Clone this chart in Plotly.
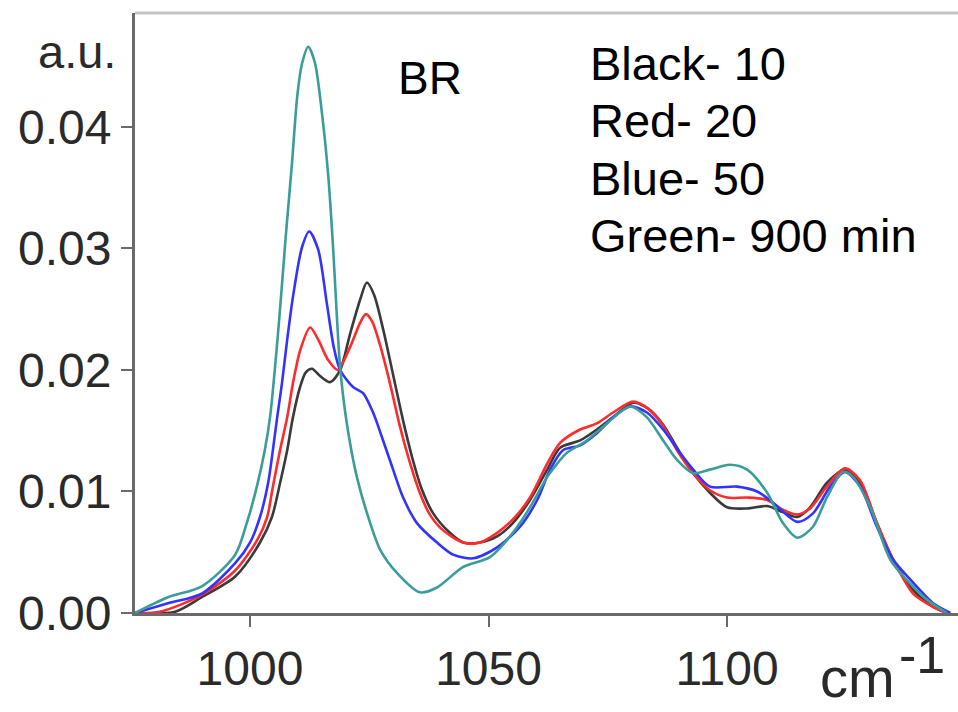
import plotly.graph_objects as go

# Spectra (wavenumber in cm-1, absorbance in a.u.) for the four times
black_x = [975.9, 984.3, 989.9, 996.9, 1002.1, 1004.6, 1006.3, 1007.8, 1009.0, 1010.5,
           1011.7, 1013.0, 1014.7, 1016.8, 1018.9, 1021.0, 1023.1, 1024.5, 1026.0, 1028.0,
           1030.0, 1032.0, 1034.0, 1036.0, 1038.4, 1041.9, 1044.7, 1048.2, 1051.8, 1055.1,
           1058.7, 1062.3, 1065.0, 1069.2, 1072.7, 1076.1, 1080.3, 1083.5, 1086.6, 1089.5,
           1092.9, 1096.4, 1100.0, 1104.2, 1108.4, 1111.7, 1114.7, 1117.4, 1120.9, 1124.7,
           1127.9, 1131.4, 1134.8, 1139.0, 1143.2, 1146.1]
black_y = [0.0000, 0.0001, 0.0013, 0.0030, 0.0058, 0.0079, 0.0107, 0.0134, 0.0161, 0.0186,
           0.0198, 0.0201, 0.0195, 0.0190, 0.0200, 0.0230, 0.0258, 0.0272, 0.0262, 0.0232,
           0.0196, 0.0160, 0.0128, 0.0102, 0.0082, 0.0066, 0.0058, 0.0058, 0.0063, 0.0074,
           0.0093, 0.0118, 0.0136, 0.0142, 0.0151, 0.0161, 0.0173, 0.0168, 0.0155, 0.0136,
           0.0115, 0.0099, 0.0087, 0.0086, 0.0088, 0.0083, 0.0079, 0.0087, 0.0107, 0.0118,
           0.0107, 0.0074, 0.0044, 0.0019, 0.0005, 0.0000]

red_x = [975.9, 981.1, 989.9, 996.9, 1001.5, 1003.6, 1004.8, 1006.3, 1007.8, 1009.0,
         1010.5, 1012.6, 1014.3, 1016.4, 1018.4, 1021.0, 1023.1, 1024.3, 1025.6, 1027.3,
         1029.4, 1031.4, 1033.5, 1035.6, 1037.7, 1040.5, 1044.7, 1048.2, 1051.8, 1055.1,
         1058.7, 1062.3, 1065.0, 1069.2, 1072.7, 1076.1, 1080.3, 1083.5, 1086.6, 1089.5,
         1092.9, 1096.4, 1100.0, 1104.2, 1108.4, 1111.7, 1114.7, 1117.4, 1120.9, 1124.7,
         1127.9, 1131.4, 1134.8, 1139.0, 1143.2, 1146.1]
red_y = [0.0000, 0.0001, 0.0015, 0.0035, 0.0060, 0.0079, 0.0104, 0.0134, 0.0161, 0.0189,
         0.0216, 0.0235, 0.0225, 0.0208, 0.0200, 0.0219, 0.0239, 0.0246, 0.0240, 0.0220,
         0.0188, 0.0154, 0.0124, 0.0099, 0.0081, 0.0068, 0.0058, 0.0058, 0.0066, 0.0077,
         0.0095, 0.0123, 0.0140, 0.0151, 0.0156, 0.0165, 0.0174, 0.0168, 0.0154, 0.0134,
         0.0115, 0.0101, 0.0095, 0.0095, 0.0093, 0.0085, 0.0081, 0.0086, 0.0104, 0.0119,
         0.0109, 0.0074, 0.0044, 0.0016, 0.0005, 0.0000]

blue_x = [975.9, 982.8, 989.9, 996.9, 1000.0, 1002.1, 1003.8, 1004.8, 1005.7, 1006.7,
          1007.8, 1009.0, 1010.9, 1012.4, 1014.3, 1016.1, 1017.6, 1018.9, 1021.6, 1023.7,
          1025.8, 1027.9, 1030.0, 1032.1, 1035.0, 1039.2, 1042.6, 1046.8, 1051.8, 1056.6,
          1060.2, 1062.9, 1065.6, 1069.2, 1072.7, 1076.1, 1079.7, 1083.2, 1086.6, 1090.1,
          1092.9, 1096.4, 1102.1, 1106.3, 1109.6, 1114.7, 1118.0, 1121.6, 1124.7, 1127.9,
          1131.4, 1134.8, 1139.0, 1143.2, 1146.8]
blue_y = [0.0000, 0.0008, 0.0016, 0.0041, 0.0058, 0.0079, 0.0107, 0.0134, 0.0161, 0.0189,
          0.0225, 0.0260, 0.0301, 0.0314, 0.0299, 0.0255, 0.0218, 0.0200, 0.0186, 0.0181,
          0.0165, 0.0142, 0.0118, 0.0095, 0.0074, 0.0058, 0.0048, 0.0045, 0.0054, 0.0071,
          0.0093, 0.0118, 0.0134, 0.0138, 0.0148, 0.0161, 0.0170, 0.0165, 0.0151, 0.0132,
          0.0118, 0.0104, 0.0104, 0.0100, 0.0091, 0.0075, 0.0082, 0.0104, 0.0116, 0.0104,
          0.0071, 0.0044, 0.0025, 0.0008, 0.0000]

green_x = [975.9, 982.8, 989.9, 996.9, 999.4, 1001.5, 1003.1, 1004.2, 1005.2,
           1006.3, 1007.5, 1008.8, 1009.9, 1010.9, 1012.2, 1013.6, 1015.1, 1016.4, 1017.4,
           1018.2, 1018.9, 1020.3, 1022.4, 1025.2, 1027.3, 1030.8, 1035.6, 1039.2, 1044.7,
           1050.3, 1055.1, 1058.7, 1062.3, 1064.4, 1066.5, 1070.6, 1074.8, 1079.7, 1083.2,
           1086.6, 1089.5, 1092.9, 1096.4, 1100.6, 1104.2, 1108.4, 1111.7, 1114.7, 1118.0,
           1120.9, 1124.3, 1126.4, 1130.0, 1134.2, 1137.7, 1141.9, 1146.1]
green_y = [0.0000, 0.0013, 0.0022, 0.0048, 0.0075, 0.0105, 0.0134, 0.0161, 0.0200,
           0.0250, 0.0310, 0.0370, 0.0425, 0.0452, 0.0466, 0.0453, 0.0411, 0.0360, 0.0302,
           0.0245, 0.0202, 0.0156, 0.0112, 0.0074, 0.0052, 0.0033, 0.0017, 0.0021, 0.0038,
           0.0046, 0.0066, 0.0087, 0.0112, 0.0123, 0.0132, 0.0142, 0.0156, 0.0170, 0.0161,
           0.0142, 0.0126, 0.0115, 0.0118, 0.0122, 0.0118, 0.0099, 0.0074, 0.0062, 0.0071,
           0.0095, 0.0116, 0.0112, 0.0087, 0.0044, 0.0027, 0.0011, 0.0000]

y_ticks = [0.00, 0.01, 0.02, 0.03, 0.04]
x_ticks = [1000, 1050, 1100]
legend_lines = ["Black- 10", "Red- 20", "Blue- 50", "Green- 900 min"]

FONT = "Liberation Sans, Arial, Helvetica, sans-serif"

series = [
    (black_x, black_y, "#3a3a3a"),
    (red_x, red_y, "#ff2b2b"),
    (blue_x, blue_y, "#3333ff"),
    (green_x, green_y, "#3a9d99"),
]

fig = go.Figure()
for xs, ys, col in series:
    fig.add_trace(go.Scatter(
        x=xs, y=ys, mode="lines",
        line=dict(color=col, width=2.6, shape="spline", smoothing=0.8),
        showlegend=False, hoverinfo="skip",
    ))

axis_col = "#6a6a6a"
tick_font = dict(family=FONT, size=48, color="#2a2a2a")
fig.update_xaxes(
    range=[975.9, 1148.4], tickvals=x_ticks, ticktext=[str(v) for v in x_ticks],
    showgrid=False, zeroline=False, showline=True, linecolor=axis_col, linewidth=3,
    ticks="outside", ticklen=11, tickwidth=2, tickcolor=axis_col, tickfont=tick_font,
)
fig.update_yaxes(
    range=[0, 0.04938], tickvals=y_ticks, ticktext=[f"{v:.2f}" for v in y_ticks],
    showgrid=False, zeroline=False, showline=True, linecolor=axis_col, linewidth=3,
    ticks="outside", ticklen=11, tickwidth=2, tickcolor=axis_col, tickfont=tick_font,
)

# light frame line along the top of the plot area
fig.add_shape(type="line", xref="paper", yref="paper", x0=0, x1=1, y0=1, y1=1,
              line=dict(color="#c4c4c4", width=3))

W, H = 958, 712
L, R, T, B = 135, 0, 13, 99
pw, ph = W - L - R, H - T - B


def px(xp):
    return (xp - L) / pw


def py(yp):
    return (H - B - yp) / ph


annos = [
    dict(text="a.u.", x=px(118), y=py(52), xanchor="right", yanchor="middle", size=47, color="#2a2a2a"),
    dict(text="BR", x=px(396), y=py(78), xanchor="left", yanchor="middle", size=46, color="#000"),
    dict(text="cm", x=px(818), y=py(711), xanchor="left", yanchor="bottom", size=56, color="#2a2a2a"),
    dict(text="-1", x=px(897), y=py(655), xanchor="left", yanchor="middle", size=52, color="#2a2a2a"),
]
for i, line in enumerate(legend_lines):
    annos.append(dict(text=line, x=px(588), y=py(63 + 57.5 * i), xanchor="left",
                      yanchor="middle", size=47, color="#000"))

for a in annos:
    fig.add_annotation(text=a["text"], x=a["x"], y=a["y"], xref="paper", yref="paper",
                       xanchor=a["xanchor"], yanchor=a["yanchor"], showarrow=False,
                       font=dict(family=FONT, size=a["size"], color=a["color"]))

fig.update_layout(
    width=W, height=H, margin=dict(l=L, r=R, t=T, b=B),
    paper_bgcolor="white", plot_bgcolor="white",
)

fig.write_html("out.html")
